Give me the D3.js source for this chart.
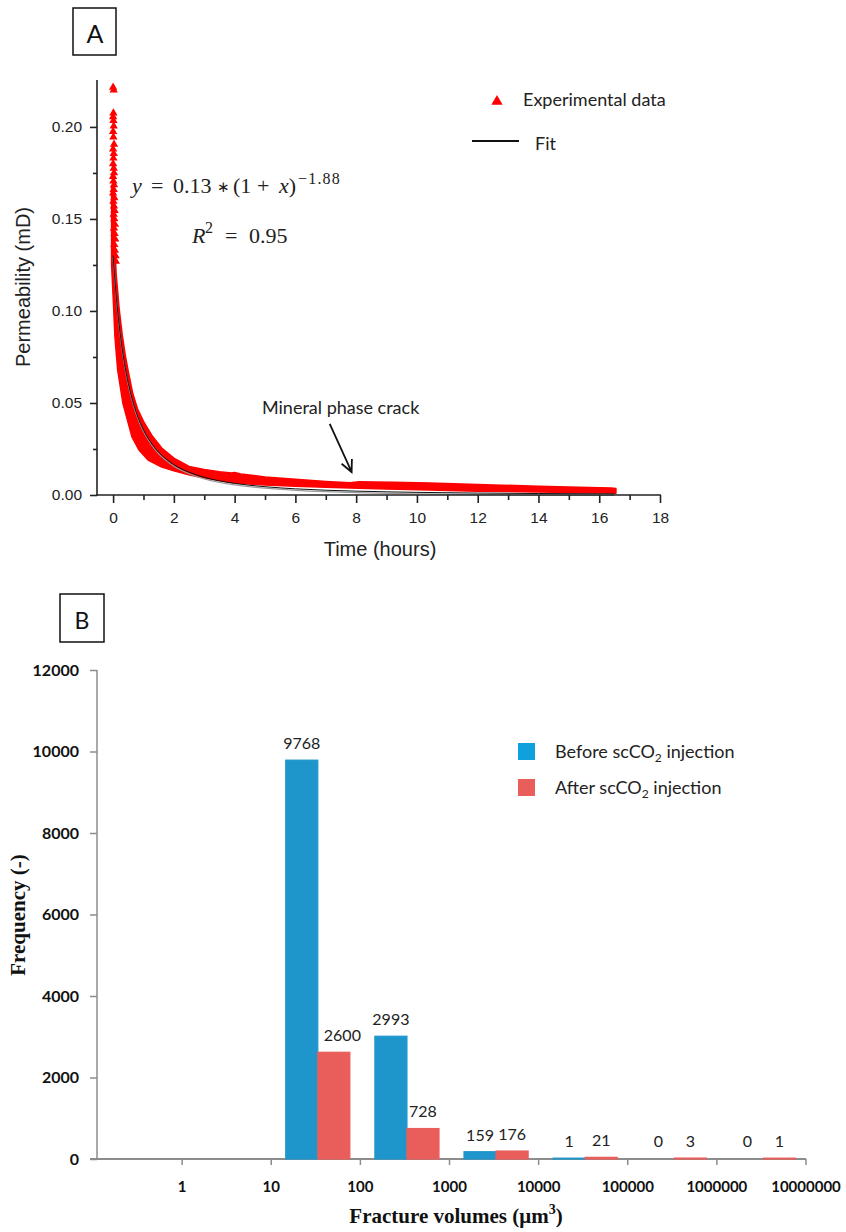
<!DOCTYPE html>
<html><head><meta charset="utf-8">
<script src="https://cdn.jsdelivr.net/npm/d3@7"></script>
<style>body{margin:0;background:#fff}</style>
</head><body>
<svg id="c" width="846" height="1232"></svg>
<script>
// ================= Panel A data =================
const timeTicks = [0, 2, 4, 6, 8, 10, 12, 14, 16, 18];
const timeMinor = [1, 3, 5, 7, 9, 11, 13, 15, 17];
const permTicks = [0, 0.05, 0.10, 0.15, 0.20];
const permMinor = [0.025, 0.075, 0.125, 0.175];

// isolated experimental points (early scatter)
const spikeT = [0.00, 0.02, 0.01, 0.00, 0.01, 0.02, 0.00, 0.01, 0.03, 0.00, 0.02, 0.01, 0.00, 0.02, 0.03, 0.00, 0.01, 0.03, 0.02, 0.00, 0.04, 0.01, 0.03, 0.05, 0.02, 0.04, 0.06, 0.03, 0.05, 0.07, 0.04, 0.06, 0.08, 0.09];
const spikeK = [0.2215, 0.2200, 0.2075, 0.2055, 0.2035, 0.2005, 0.1975, 0.1945, 0.1905, 0.1880, 0.1855, 0.1830, 0.1800, 0.1775, 0.1750, 0.1730, 0.1705, 0.1685, 0.1660, 0.1640, 0.1615, 0.1595, 0.1570, 0.1545, 0.1525, 0.1500, 0.1470, 0.1450, 0.1420, 0.1390, 0.1360, 0.1330, 0.1300, 0.1270];

// envelope of the dense experimental band
const bandUpperT = [-0.05, 0.00, 0.05, 0.10, 0.20, 0.30, 0.40, 0.50, 0.65, 0.80, 1.00, 1.27, 1.60, 2.00, 2.50, 3.00, 3.50, 3.90, 4.00, 4.20, 5.00, 6.00, 7.00, 7.80, 8.10, 8.60, 9.20, 10.4, 12.0, 14.0, 16.0, 16.4, 16.55];
const bandUpperK = [0.168, 0.166, 0.138, 0.120, 0.101, 0.087, 0.076, 0.067, 0.055, 0.047, 0.040, 0.0325, 0.0255, 0.0200, 0.0155, 0.0138, 0.0127, 0.0120, 0.0123, 0.0114, 0.0098, 0.0085, 0.0074, 0.0066, 0.0072, 0.0071, 0.0069, 0.0065, 0.0057, 0.0048, 0.0040, 0.0038, 0.0036];
const bandLowerT = [-0.05, 0.00, 0.06, 0.15, 0.32, 0.62, 0.85, 1.15, 1.60, 2.00, 2.52, 3.00, 3.94, 5.00, 6.00, 7.00, 7.80, 9.00, 10.4, 12.0, 14.0, 16.4, 16.55];
const bandLowerK = [0.125, 0.108, 0.086, 0.068, 0.050, 0.0316, 0.0245, 0.0190, 0.0152, 0.0131, 0.0109, 0.0092, 0.0066, 0.0054, 0.0047, 0.0042, 0.0038, 0.0032, 0.0027, 0.0021, 0.0016, 0.0011, 0.0010];

// power-law fit curve
const fitT = [0, 0.1, 0.2, 0.3, 0.4, 0.5, 0.6, 0.75, 0.9, 1.0, 1.25, 1.5, 1.75, 2.0, 2.5, 3.0, 3.5, 4.0, 5.0, 6.0, 7.0, 8.0, 10.0, 12.0, 14.0, 16.5];
const fitK = [0.1300, 0.1087, 0.0923, 0.0794, 0.0690, 0.0607, 0.0538, 0.0454, 0.0389, 0.0353, 0.0284, 0.0232, 0.0195, 0.0165, 0.0124, 0.0096, 0.0077, 0.0063, 0.0045, 0.00335, 0.0026, 0.0021, 0.00143, 0.00105, 0.0008, 0.0006];

// annotation anchor (data coordinates)
const noteLabel = ["Mineral phase crack"];
const noteTextAt = [4.9, 0.044];
const noteArrowFrom = [7.13, 0.0386];
const noteArrowTo = [7.85, 0.0125];

// ================= Panel B data =================
const volumeBins = ["<1", "1-10", "10-100", "100-1000", "1000-10000", "10000-100000", "100000-1000000", "1000000-10000000"];
const boundaryLabels = ["1", "10", "100", "1000", "10000", "100000", "1000000", "10000000"];
const beforeCounts = [null, null, 9768, 2993, 159, 1, 0, 0];
const afterCounts = [null, null, 2600, 728, 176, 21, 3, 1];
const freqTicks = [0, 2000, 4000, 6000, 8000, 10000, 12000];
const seriesNames = ["Before", "After"];

const svg = d3.select("#c");
const RED = "#ff0000";

// ================= Panel A =================
const xA = d3.scaleLinear().domain([-0.53, 18]).range([97, 660]);
const yA = d3.scaleLinear().domain([0, 0.2255]).range([495, 80]);
const gA = svg.append("g");

gA.append("rect").attr("x", 73).attr("y", 8).attr("width", 43).attr("height", 47)
  .attr("fill", "none").attr("stroke", "#111").attr("stroke-width", 1.5);
gA.append("text").attr("x", 95).attr("y", 43).attr("text-anchor", "middle")
  .attr("font-family", "Lato").attr("font-size", 25).attr("fill", "#111").text("A");

// band
const lineA = d3.line().x(d => xA(d[0])).y(d => yA(d[1]));
const upper = bandUpperT.map((t, i) => [t, bandUpperK[i]]);
const lower = bandLowerT.map((t, i) => [t, bandLowerK[i]]).reverse();
gA.append("path").attr("d", lineA(upper.concat(lower)) + "Z")
  .attr("fill", RED).attr("stroke", RED).attr("stroke-width", 1.5).attr("stroke-linejoin", "round");

// scatter triangles
const tri = d3.symbol().type(d3.symbolTriangle).size(30);
const pts = spikeT.map((t, i) => [t, spikeK[i]]);
gA.append("g").selectAll("path").data(pts).join("path")
  .attr("d", tri).attr("transform", d => `translate(${xA(d[0])},${yA(d[1])})`).attr("fill", RED);

// fit line
const fitLine = d3.line().x((d, i) => xA(fitT[i])).y((d, i) => yA(fitK[i])).curve(d3.curveMonotoneX);
gA.append("path").attr("d", fitLine(fitT))
  .attr("fill", "none").attr("stroke", "#9a9a9a").attr("stroke-width", 1.2).attr("transform", "translate(0,1.5)");
gA.append("path").attr("d", fitLine(fitT))
  .attr("fill", "none").attr("stroke", "#111").attr("stroke-width", 1);

// axes
const axA = gA.append("g").attr("font-family", "Liberation Sans");
axA.append("g").attr("transform", "translate(0,495)")
  .call(d3.axisBottom(xA).tickValues(timeTicks).tickSize(8).tickPadding(9).tickFormat(d3.format("d")))
  .select(".domain").remove();
axA.append("g").attr("transform", "translate(0,495)")
  .call(d3.axisBottom(xA).tickValues(timeMinor).tickSize(5).tickFormat(""))
  .select(".domain").remove();
axA.append("g").attr("transform", "translate(97,0)")
  .call(d3.axisLeft(yA).tickValues(permTicks).tickSize(7).tickPadding(8).tickFormat(d3.format(".2f")))
  .select(".domain").remove();
axA.append("g").attr("transform", "translate(97,0)")
  .call(d3.axisLeft(yA).tickValues(permMinor).tickSize(4).tickFormat(""))
  .select(".domain").remove();
axA.append("line").attr("x1", 97).attr("x2", 97).attr("y1", 80).attr("y2", 495.7).attr("stroke", "#222").attr("stroke-width", 1.6);
axA.append("line").attr("x1", 96.2).attr("x2", xA(18) + 0.8).attr("y1", 495).attr("y2", 495).attr("stroke", "#222").attr("stroke-width", 1.6);
axA.selectAll(".tick line").attr("stroke", "#222").attr("stroke-width", 1.6);
axA.selectAll(".tick text").attr("font-size", 15.5).attr("fill", "#222");

axA.append("text").attr("x", 380).attr("y", 556).attr("text-anchor", "middle")
  .attr("font-size", 20).attr("fill", "#222").text("Time (hours)");
axA.append("text").attr("transform", "translate(30,287) rotate(-90)").attr("text-anchor", "middle")
  .attr("font-size", 20).attr("fill", "#222").text("Permeability (mD)");

// equation (math layout)
const eq = gA.append("text").attr("y", 193).attr("font-family", "Liberation Serif")
  .attr("font-size", 22).attr("fill", "#222");
eq.append("tspan").attr("x", 132).attr("font-style", "italic").text("y");
eq.append("tspan").attr("x", 151).text("=");
eq.append("tspan").attr("x", 173).text("0.13");
eq.append("tspan").attr("x", 217).attr("font-family", "DejaVu Sans").attr("font-size", 15).attr("dy", -1).text("\u2217");
eq.append("tspan").attr("x", 233).attr("dy", 1).text("(1");
eq.append("tspan").attr("x", 257).text("+");
eq.append("tspan").attr("x", 279).attr("font-style", "italic").text("x");
eq.append("tspan").text(")");
eq.append("tspan").attr("x", 298).attr("font-size", 16).attr("letter-spacing", 1.2).attr("dy", -9).text("\u22121.88");
const r2 = gA.append("text").attr("y", 243).attr("font-family", "Liberation Serif")
  .attr("font-size", 22).attr("fill", "#222");
r2.append("tspan").attr("x", 192).attr("font-style", "italic").text("R");
r2.append("tspan").attr("x", 205).attr("font-size", 16).attr("dy", -10).text("2");
r2.append("tspan").attr("x", 225).attr("dy", 10).text("=");
r2.append("tspan").attr("x", 249).text("0.95");

// legend A
gA.append("path").attr("d", d3.symbol().type(d3.symbolTriangle).size(55)())
  .attr("transform", "translate(497,101.5)").attr("fill", RED);
gA.append("text").attr("x", 523).attr("y", 106).attr("font-family", "Lato").attr("font-size", 18)
  .attr("fill", "#222").text("Experimental data");
gA.append("line").attr("x1", 472).attr("x2", 519).attr("y1", 141).attr("y2", 141).attr("stroke", "#111").attr("stroke-width", 1.8);
gA.append("text").attr("x", 535).attr("y", 150).attr("font-family", "Lato").attr("font-size", 18)
  .attr("fill", "#222").text("Fit");

// annotation
gA.append("text").attr("x", xA(noteTextAt[0])).attr("y", yA(noteTextAt[1])).attr("font-family", "Lato")
  .attr("font-size", 18).attr("fill", "#222").text(noteLabel[0]);
const ax0 = xA(noteArrowFrom[0]), ay0 = yA(noteArrowFrom[1]), ax1 = xA(noteArrowTo[0]), ay1 = yA(noteArrowTo[1]);
const ang = Math.atan2(ay1 - ay0, ax1 - ax0);
const hl = 13, ha = 0.45;
gA.append("path").attr("d", `M${ax0},${ay0}L${ax1},${ay1}M${ax1 - hl * Math.cos(ang - ha)},${ay1 - hl * Math.sin(ang - ha)}L${ax1},${ay1}L${ax1 - hl * Math.cos(ang + ha)},${ay1 - hl * Math.sin(ang + ha)}`)
  .attr("fill", "none").attr("stroke", "#111").attr("stroke-width", 1.8);

// ================= Panel B =================
const BLUE = "#1e96cb", SALMON = "#e95e5b";
const colors = {Before: BLUE, After: SALMON};
const xB = d3.scaleBand().domain(volumeBins).range([93, 806]);
const xSub = d3.scaleBand().domain(seriesNames).range([0, xB.bandwidth()]).paddingOuter(0.39);
const yB = d3.scaleLinear().domain([0, 12000]).range([1159, 670]);
const gB = svg.append("g");

gB.append("rect").attr("x", 60).attr("y", 594).attr("width", 44).attr("height", 48)
  .attr("fill", "none").attr("stroke", "#111").attr("stroke-width", 1.5);
gB.append("text").attr("x", 82).attr("y", 629).attr("text-anchor", "middle")
  .attr("font-family", "Lato").attr("font-size", 23).attr("fill", "#111").text("B");

gB.append("line").attr("x1", 97).attr("x2", 97).attr("y1", 670).attr("y2", 1159).attr("stroke", "#8c8c8c").attr("stroke-width", 1.5);
const yAxB = gB.append("g").attr("transform", "translate(97,0)")
  .call(d3.axisLeft(yB).tickValues(freqTicks).tickSize(7).tickPadding(11).tickFormat(d3.format("d")));
yAxB.select(".domain").remove();
yAxB.selectAll(".tick line").attr("stroke", "#8c8c8c").attr("stroke-width", 1.5);
yAxB.selectAll(".tick text").attr("font-family", "Lato").attr("font-weight", "bold").attr("font-size", 16).attr("fill", "#111");

const bounds = volumeBins.map(b => xB(b) + xB.bandwidth());
gB.append("line").attr("x1", 90).attr("x2", 806).attr("y1", 1159).attr("y2", 1159).attr("stroke", "#8c8c8c").attr("stroke-width", 2);
gB.append("g").selectAll("line").data(bounds).join("line")
  .attr("x1", d => d).attr("x2", d => d).attr("y1", 1159).attr("y2", 1165).attr("stroke", "#8c8c8c").attr("stroke-width", 1.5);
gB.append("g").selectAll("text").data(boundaryLabels).join("text")
  .attr("x", (d, i) => bounds[i]).attr("y", 1192).attr("text-anchor", "middle")
  .attr("font-family", "Lato").attr("font-weight", "bold").attr("font-size", 15).attr("fill", "#111").text(d => d);

// bars
const barData = [];
volumeBins.forEach((b, i) => {
  if (beforeCounts[i] !== null) barData.push({bin: b, s: "Before", v: beforeCounts[i], other: afterCounts[i]});
  if (afterCounts[i] !== null) barData.push({bin: b, s: "After", v: afterCounts[i], other: beforeCounts[i]});
});
const bx = d => xB(d.bin) + xSub(d.s) + 2;
gB.append("g").selectAll("rect").data(barData.filter(d => d.v > 0)).join("rect")
  .attr("x", bx).attr("width", xSub.bandwidth())
  .attr("y", d => yB(d.v) - 0.8).attr("height", d => yB(0) - yB(d.v) + 0.8)
  .attr("fill", d => colors[d.s]).attr("stroke", d => colors[d.s]).attr("stroke-width", 1.2);
const labels = gB.append("g").selectAll("text").data(barData).join("text")
  .attr("x", d => bx(d) + xSub.bandwidth() / 2).attr("y", d => yB(d.v) - 12)
  .attr("text-anchor", "middle").attr("font-family", "Lato").attr("font-size", 16).attr("fill", "#222")
  .text(d => d.v);
// nudge a label right when it would run into the taller neighbouring bar on its left
labels.each(function (d) {
  const w = this.getComputedTextLength();
  if (d.s === "After" && d.other > d.v && w > xSub.bandwidth() + 2) {
    d3.select(this).attr("x", bx(d) + 6 + w / 2);
  }
});

// legend B
const legB = gB.append("g");
[["Before", 743, "Before scCO", " injection"], ["After", 779, "After scCO", " injection"]].forEach(([s, y, a, b]) => {
  legB.append("rect").attr("x", 518).attr("y", y).attr("width", 17).attr("height", 17).attr("fill", s === "Before" ? "#0fa0de" : SALMON);
  const t = legB.append("text").attr("x", 555).attr("y", y + 15).attr("font-family", "Lato").attr("font-size", 18).attr("fill", "#222");
  t.append("tspan").text(a);
  t.append("tspan").attr("font-size", 12).attr("dy", 4).text("2");
  t.append("tspan").attr("dy", -4).text(b);
});

gB.append("text").attr("transform", "translate(25,915) rotate(-90)").attr("text-anchor", "middle")
  .attr("font-family", "Liberation Serif").attr("font-weight", "bold").attr("font-size", 21).attr("fill", "#111")
  .text("Frequency (-)");
const xt = gB.append("text").attr("x", 456).attr("y", 1223).attr("text-anchor", "middle")
  .attr("font-family", "Liberation Serif").attr("font-weight", "bold").attr("font-size", 21).attr("fill", "#111");
xt.append("tspan").text("Fracture volumes (\u03bcm");
xt.append("tspan").attr("font-size", 14).attr("dy", -9).text("3");
xt.append("tspan").attr("dy", 9).text(")");
</script>
</body></html>
